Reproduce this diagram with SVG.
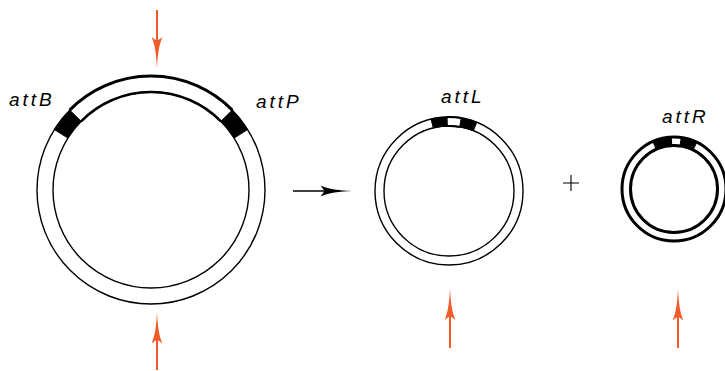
<svg xmlns="http://www.w3.org/2000/svg" xmlns:xlink="http://www.w3.org/1999/xlink" width="725" height="371" viewBox="0 0 725 371">
<style>
.ring{fill:none;stroke:#000;stroke-width:1.4}
.thick{fill:none;stroke:#000;stroke-width:3}
.blk{fill:#000;stroke:#000;stroke-width:1}
.lbl{font-family:"Liberation Sans",Arial,sans-serif;font-style:italic;font-size:19px;letter-spacing:3px;fill:#000}
.red{stroke:#f15a29;stroke-width:2;fill:none}
.redh{fill:#f15a29}
.bl{stroke:#000;stroke-width:1.5;fill:none}
</style>
<defs>
<path id="ah" d="M0,0 C0.6,12 1.8,24 5.5,31.5 L0,27.5 L-5.5,31.5 C-1.8,24 -0.6,12 0,0 Z"/>
</defs>
<rect width="725" height="371" fill="#fff"/>
<g id="node-big">
<circle class="ring" cx="151" cy="190" r="114"/>
<circle class="ring" cx="151" cy="190" r="98"/>
<path class="thick" d="M69.68,110.10 A114,114 0 0 1 232.32,110.10"/>
<path class="thick" style="stroke-width:2.5" d="M81.10,121.31 A98,98 0 0 1 220.90,121.31"/>
<path class="blk" d="M69.68,110.10 A114,114 0 0 0 54.33,129.59 L67.90,138.07 A98,98 0 0 1 81.10,121.31 Z"/>
<path class="blk" d="M247.67,129.59 A114,114 0 0 0 232.32,110.10 L220.90,121.31 A98,98 0 0 1 234.10,138.07 Z"/>
<text class="lbl" x="9" y="106">attB</text>
<text class="lbl" x="256" y="108">attP</text>
</g>
<g id="node-attL">
<circle class="ring" cx="449" cy="191" r="74"/>
<circle class="ring" cx="449" cy="191" r="65"/>
<path class="thick" style="stroke-width:2" d="M447.06,117.03 A74,74 0 0 1 461.21,118.01"/>
<path class="thick" style="stroke-width:2" d="M447.30,126.02 A65,65 0 0 1 459.73,126.89"/>
<path class="blk" d="M431.10,119.20 A74,74 0 0 1 447.06,117.03 L447.30,126.02 A65,65 0 0 0 433.28,127.93 Z"/>
<path class="blk" d="M461.21,118.01 A74,74 0 0 1 476.72,122.39 L473.35,130.73 A65,65 0 0 0 459.73,126.89 Z"/>
<text class="lbl" x="441" y="103">attL</text>
</g>
<g id="node-attR">
<circle class="thick" cx="674" cy="189" r="52"/>
<circle class="thick" cx="674" cy="189" r="43.5"/>
<path class="blk" d="M652.85,141.50 A52,52 0 0 1 671.28,137.07 L671.72,145.56 A43.5,43.5 0 0 0 656.31,149.26 Z"/>
<path class="blk" d="M681.24,137.50 A52,52 0 0 1 696.80,142.26 L693.07,149.90 A43.5,43.5 0 0 0 680.06,145.92 Z"/>
<text class="lbl" x="662" y="123">attR</text>
</g>
<g id="node-plus">
<path d="M563,183 H579 M571,175 V191" stroke="#000" stroke-width="1.1" fill="none"/>
</g>
<g id="connectors">
<line class="red" x1="157" y1="10" x2="157" y2="42"/>
<use xlink:href="#ah" class="redh" transform="translate(157,68.5) rotate(180)"/>
<line class="red" x1="157" y1="338" x2="157" y2="370"/>
<use xlink:href="#ah" class="redh" transform="translate(157,312)"/>
<line class="red" x1="450" y1="315" x2="450" y2="348"/>
<use xlink:href="#ah" class="redh" transform="translate(450,288.5)"/>
<line class="red" x1="678" y1="315" x2="678" y2="348"/>
<use xlink:href="#ah" class="redh" transform="translate(678,289)"/>
<line class="bl" x1="293" y1="191" x2="326" y2="191"/>
<use xlink:href="#ah" fill="#000" transform="translate(352,191) rotate(90)"/>
</g>
</svg>
